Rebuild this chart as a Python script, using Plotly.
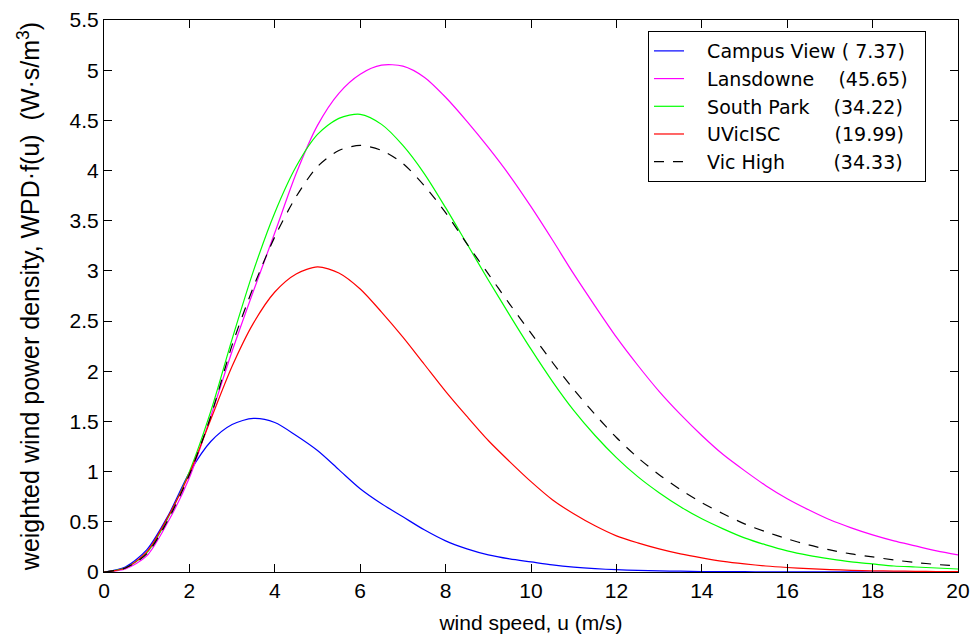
import plotly.graph_objects as go

# wind speed grid (m/s)
wind_speed = [0, 0.5, 1, 1.5, 2, 2.5, 3, 3.5, 4, 4.5, 5, 5.5, 6, 6.5, 7, 7.5, 8, 8.5, 9, 9.5,
              10, 10.5, 11, 11.5, 12, 12.5, 13, 13.5, 14, 14.5, 15, 15.5, 16, 16.5, 17, 17.5,
              18, 18.5, 19, 19.5, 20]

campus_view = [0, 0.05, 0.22, 0.56, 0.99, 1.30, 1.47, 1.53, 1.49, 1.36, 1.21, 1.02, 0.83, 0.68,
               0.55, 0.42, 0.31, 0.23, 0.17, 0.13, 0.10, 0.07, 0.048, 0.033, 0.023, 0.016, 0.011,
               0.008, 0.005, 0.004, 0.003, 0.002, 0.002, 0.001, 0.001, 0.001, 0, 0, 0, 0, 0]

lansdowne = [0, 0.03, 0.16, 0.50, 0.94, 1.55, 2.20, 2.80, 3.38, 3.97, 4.45, 4.77, 4.96, 5.05,
             5.04, 4.93, 4.73, 4.49, 4.23, 3.95, 3.64, 3.31, 2.97, 2.65, 2.34, 2.06, 1.80, 1.57,
             1.36, 1.17, 1.01, 0.86, 0.73, 0.62, 0.52, 0.44, 0.37, 0.31, 0.26, 0.21, 0.17]

south_park = [0, 0.04, 0.19, 0.54, 1.00, 1.60, 2.32, 3.00, 3.58, 4.04, 4.36, 4.52, 4.56, 4.46,
              4.25, 3.97, 3.63, 3.27, 2.91, 2.56, 2.22, 1.90, 1.61, 1.36, 1.14, 0.95, 0.79, 0.65,
              0.53, 0.43, 0.34, 0.27, 0.21, 0.165, 0.13, 0.10, 0.08, 0.06, 0.05, 0.04, 0.03]

uvic_isc = [0, 0.04, 0.20, 0.55, 0.98, 1.52, 2.05, 2.48, 2.79, 2.97, 3.04, 2.98, 2.82, 2.59,
            2.34, 2.07, 1.80, 1.55, 1.31, 1.10, 0.90, 0.72, 0.58, 0.46, 0.36, 0.29, 0.23, 0.18,
            0.14, 0.105, 0.08, 0.06, 0.045, 0.033, 0.024, 0.017, 0.012, 0.009, 0.007, 0.005, 0.004]

vic_high = [0, 0.04, 0.18, 0.52, 0.97, 1.55, 2.26, 2.84, 3.34, 3.74, 4.04, 4.20, 4.25, 4.20,
            4.07, 3.85, 3.58, 3.27, 2.97, 2.67, 2.38, 2.09, 1.82, 1.57, 1.34, 1.14, 0.97, 0.82,
            0.69, 0.58, 0.48, 0.40, 0.33, 0.27, 0.22, 0.18, 0.15, 0.12, 0.095, 0.075, 0.06]

NB = "\u00a0"
series_names = [
    "Campus View (" + NB + "7.37)",
    "Lansdowne" + NB * 4 + "(45.65)",
    "South Park" + NB * 4 + "(34.22)",
    "UVicISC" + NB * 9 + "(19.99)",
    "Vic High" + NB * 8 + "(34.33)",
]
series_values = [campus_view, lansdowne, south_park, uvic_isc, vic_high]
series_colors = ["#0000ff", "#ff00ff", "#00ff00", "#ff0000", "#000000"]
series_dash = ["solid", "solid", "solid", "solid", "10px,9px"]

x_ticks = list(range(0, 21, 2))
y_ticks = [0, 0.5, 1, 1.5, 2, 2.5, 3, 3.5, 4, 4.5, 5, 5.5]
y_tick_labels = ["0", "0.5", "1", "1.5", "2", "2.5", "3", "3.5", "4", "4.5", "5", "5.5"]

FONT = "Liberation Sans, Arial, Helvetica, sans-serif"
LEG_FONT = "DejaVu Sans, Liberation Sans, Arial, sans-serif"

fig = go.Figure()
for name, vals, col, dash in zip(series_names, series_values, series_colors, series_dash):
    fig.add_trace(go.Scatter(
        x=wind_speed, y=vals, mode="lines", name=NB * 3 + name + NB * 2,
        line=dict(color=col, width=1.2, dash=dash, shape="spline", smoothing=0.8),
    ))

axis_common = dict(
    showline=True, linecolor="black", linewidth=1, mirror="ticks",
    ticks="inside", ticklen=8, tickcolor="black", tickwidth=1,
    showgrid=False, zeroline=False,
    tickfont=dict(family=FONT, size=21, color="black"),
)

fig.update_layout(
    width=975, height=642,
    margin=dict(l=104, r=17, t=20, b=70),
    paper_bgcolor="white", plot_bgcolor="white",
    font=dict(family=FONT, size=21, color="black"),
    xaxis=dict(range=[0, 20], tickvals=x_ticks, automargin=False,
               title=dict(text="wind speed, u (m/s)", font=dict(size=21), standoff=14),
               **axis_common),
    yaxis=dict(range=[0, 5.5], tickvals=y_ticks, ticktext=y_tick_labels, automargin=False,
               title=dict(text="weighted wind power density, WPD·f(u)" + NB * 2
                          + "(W·s/m<sup>3</sup>)" + NB * 4,
                          font=dict(size=25), standoff=22),
               **axis_common),
    legend=dict(
        x=0.637, y=0.98, xanchor="left", yanchor="top",
        bgcolor="white", bordercolor="black", borderwidth=1,
        font=dict(family=LEG_FONT, size=19, color="black"),
        tracegroupgap=0,
    ),
    showlegend=True,
)

fig.write_html("out.html")
